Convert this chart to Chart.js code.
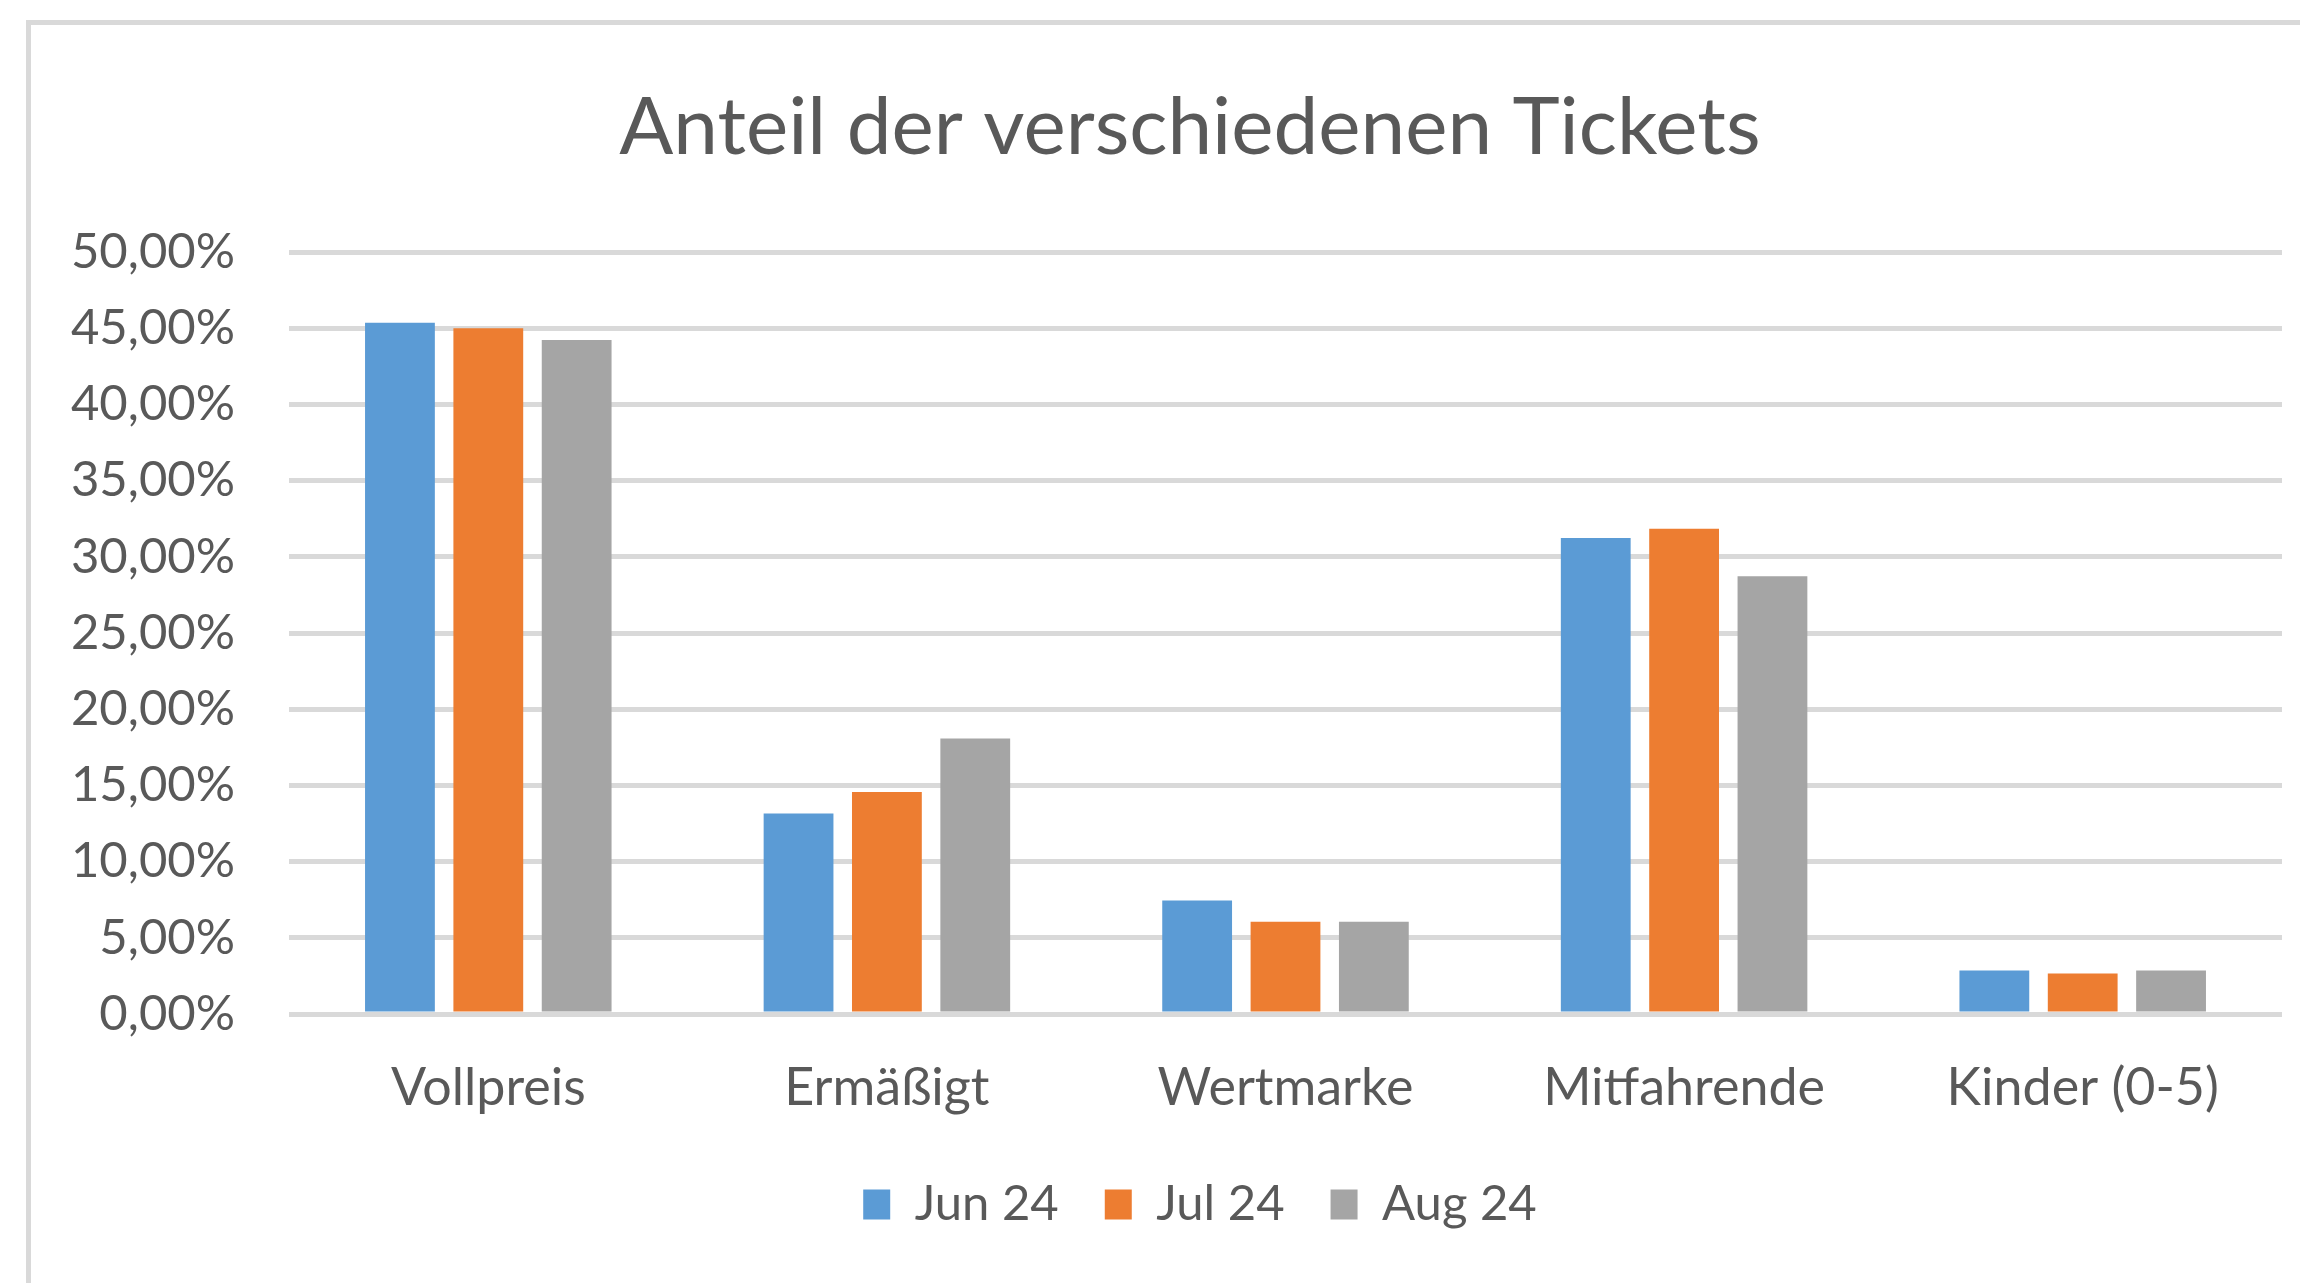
<!DOCTYPE html>
<html lang="de">
<head>
    <meta charset="UTF-8">
    <title>Anteil der verschiedenen Tickets</title>
    <script src="https://cdn.jsdelivr.net/npm/chart.js"></script>
    <style>
        html, body { margin: 0; padding: 0; background: #ffffff; overflow: hidden; }
        canvas { display: block; }
    </style>
</head>
<body>
    <canvas id="ticketChart" width="2300" height="1283"></canvas>

    <script>
        // Werte in Prozent
        const categories = ['Vollpreis', 'Ermäßigt', 'Wertmarke', 'Mitfahrende', 'Kinder (0-5)'];
        const seriesNames = ['Jun 24', 'Jul 24', 'Aug 24'];
        const jun24 = [45.35, 13.15, 7.44, 31.23, 2.85];
        const jul24 = [45.0, 14.57, 6.06, 31.84, 2.66];
        const aug24 = [44.22, 18.07, 6.06, 28.73, 2.85];
        const yTicks = [0, 5, 10, 15, 20, 25, 30, 35, 40, 45, 50];

        const textColor = '#595959';
        const gridColor = '#d9d9d9';
        const fontFamily = 'Lato, "Open Sans", sans-serif';

        // Rahmen oben und links wie im Excel-Diagramm
        const frame = {
            id: 'frame',
            beforeDraw(chart) {
                const ctx = chart.ctx;
                ctx.save();
                ctx.fillStyle = '#ffffff';
                ctx.fillRect(0, 0, chart.width, chart.height);
                ctx.fillStyle = gridColor;
                ctx.fillRect(26, 20, 5, chart.height - 20);
                ctx.fillRect(26, 20, chart.width - 26, 5);
                ctx.restore();
            }
        };

        // Titel und Legende etwas nach rechts schieben (Excel zentriert über den ganzen Rahmen)
        const shiftBlocks = {
            id: 'shiftBlocks',
            afterLayout(chart) {
                if (chart.titleBlock) { chart.titleBlock.left += 29; chart.titleBlock.right += 29; }
                if (chart.legend) { chart.legend.left += 39; chart.legend.right += 39; }
            }
        };

        function pct(v) {
            return v.toFixed(2).replace('.', ',') + '%';
        }

        const ctx = document.getElementById('ticketChart').getContext('2d');
        new Chart(ctx, {
            type: 'bar',
            data: {
                labels: categories,
                datasets: [
                    { label: seriesNames[0], data: jun24, backgroundColor: '#5b9bd5' },
                    { label: seriesNames[1], data: jul24, backgroundColor: '#ed7d31' },
                    { label: seriesNames[2], data: aug24, backgroundColor: '#a5a5a5' }
                ]
            },
            options: {
                responsive: false,
                animation: false,
                categoryPercentage: 0.665,
                barPercentage: 0.79,
                layout: {
                    padding: { left: 40, right: 18, top: 0, bottom: 44 }
                },
                plugins: {
                    tooltip: { enabled: false },
                    title: {
                        display: true,
                        text: 'Anteil der verschiedenen Tickets',
                        color: textColor,
                        font: { family: fontFamily, size: 80, weight: 'normal', lineHeight: 1.2 },
                        padding: { top: 80, bottom: 76 }
                    },
                    legend: {
                        position: 'bottom',
                        labels: {
                            color: textColor,
                            font: { family: fontFamily, size: 49, lineHeight: 1.0 },
                            boxWidth: 27,
                            boxHeight: 30,
                            padding: 46
                        }
                    }
                },
                scales: {
                    x: {
                        grid: { display: false, drawTicks: false },
                        border: { display: false },
                        ticks: {
                            color: textColor,
                            font: { family: fontFamily, size: 52 },
                            padding: 43,
                            maxRotation: 0
                        },
                        afterFit(scale) { scale.height = 120; }
                    },
                    y: {
                        min: 0,
                        max: 50,
                        grid: { color: gridColor, lineWidth: 5, drawTicks: false },
                        border: { display: false },
                        afterBuildTicks(scale) {
                            scale.ticks = yTicks.map(v => ({ value: v }));
                        },
                        ticks: {
                            color: textColor,
                            font: { family: fontFamily, size: 49 },
                            padding: 54,
                            callback: v => pct(v)
                        },
                        afterFit(scale) { scale.width = 249; }
                    }
                }
            },
            plugins: [frame, shiftBlocks]
        });
    </script>
</body>
</html>
